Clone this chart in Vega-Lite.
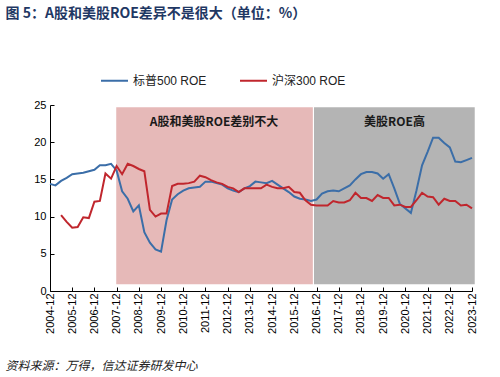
{
  "$schema": "https://vega.github.io/schema/vega-lite/v6.json",
  "width": 422,
  "height": 186,
  "autosize": {"type": "none"},
  "padding": {"left": 50, "top": 105, "right": 28, "bottom": 86},
  "background": "white",
  "config": {"view": {"stroke": null}, "font": "Liberation Sans, Noto Sans CJK SC"},
  "datasets": {
    "regions": [
      {"region": "A股和美股ROE差别不大", "start": "2007-11-25", "end": "2016-10-01", "mid": "2012-04-20"},
      {"region": "美股ROE高", "start": "2016-10-20", "end": "2024-01-15", "mid": "2020-06-05"}
    ],
    "roe": [
      {"date": "2004-12", "series": "标普500 ROE", "roe": 14.4},
      {"date": "2005-03", "series": "标普500 ROE", "roe": 14.2},
      {"date": "2005-06", "series": "标普500 ROE", "roe": 14.8},
      {"date": "2005-09", "series": "标普500 ROE", "roe": 15.2},
      {"date": "2005-12", "series": "标普500 ROE", "roe": 15.7},
      {"date": "2006-03", "series": "标普500 ROE", "roe": 15.8},
      {"date": "2006-06", "series": "标普500 ROE", "roe": 15.9},
      {"date": "2006-09", "series": "标普500 ROE", "roe": 16.1},
      {"date": "2006-12", "series": "标普500 ROE", "roe": 16.3},
      {"date": "2007-03", "series": "标普500 ROE", "roe": 16.9},
      {"date": "2007-06", "series": "标普500 ROE", "roe": 16.9},
      {"date": "2007-09", "series": "标普500 ROE", "roe": 17.1},
      {"date": "2007-12", "series": "标普500 ROE", "roe": 16.2},
      {"date": "2008-03", "series": "标普500 ROE", "roe": 13.4},
      {"date": "2008-06", "series": "标普500 ROE", "roe": 12.4},
      {"date": "2008-09", "series": "标普500 ROE", "roe": 10.7},
      {"date": "2008-12", "series": "标普500 ROE", "roe": 11.5},
      {"date": "2009-03", "series": "标普500 ROE", "roe": 7.9},
      {"date": "2009-06", "series": "标普500 ROE", "roe": 6.5},
      {"date": "2009-09", "series": "标普500 ROE", "roe": 5.6},
      {"date": "2009-12", "series": "标普500 ROE", "roe": 5.3},
      {"date": "2010-03", "series": "标普500 ROE", "roe": 9.5},
      {"date": "2010-06", "series": "标普500 ROE", "roe": 12.3},
      {"date": "2010-09", "series": "标普500 ROE", "roe": 13.0},
      {"date": "2010-12", "series": "标普500 ROE", "roe": 13.5},
      {"date": "2011-03", "series": "标普500 ROE", "roe": 13.8},
      {"date": "2011-06", "series": "标普500 ROE", "roe": 13.9},
      {"date": "2011-09", "series": "标普500 ROE", "roe": 14.0},
      {"date": "2011-12", "series": "标普500 ROE", "roe": 14.7},
      {"date": "2012-03", "series": "标普500 ROE", "roe": 14.7},
      {"date": "2012-06", "series": "标普500 ROE", "roe": 14.5},
      {"date": "2012-09", "series": "标普500 ROE", "roe": 14.3},
      {"date": "2012-12", "series": "标普500 ROE", "roe": 13.8},
      {"date": "2013-03", "series": "标普500 ROE", "roe": 13.5},
      {"date": "2013-06", "series": "标普500 ROE", "roe": 13.3},
      {"date": "2013-09", "series": "标普500 ROE", "roe": 13.8},
      {"date": "2013-12", "series": "标普500 ROE", "roe": 14.1},
      {"date": "2014-03", "series": "标普500 ROE", "roe": 14.7},
      {"date": "2014-06", "series": "标普500 ROE", "roe": 14.6},
      {"date": "2014-09", "series": "标普500 ROE", "roe": 14.5},
      {"date": "2014-12", "series": "标普500 ROE", "roe": 14.8},
      {"date": "2015-03", "series": "标普500 ROE", "roe": 14.3},
      {"date": "2015-06", "series": "标普500 ROE", "roe": 13.8},
      {"date": "2015-09", "series": "标普500 ROE", "roe": 13.3},
      {"date": "2015-12", "series": "标普500 ROE", "roe": 12.7},
      {"date": "2016-03", "series": "标普500 ROE", "roe": 12.4},
      {"date": "2016-06", "series": "标普500 ROE", "roe": 12.3},
      {"date": "2016-09", "series": "标普500 ROE", "roe": 12.1},
      {"date": "2016-12", "series": "标普500 ROE", "roe": 12.3},
      {"date": "2017-03", "series": "标普500 ROE", "roe": 13.1},
      {"date": "2017-06", "series": "标普500 ROE", "roe": 13.4},
      {"date": "2017-09", "series": "标普500 ROE", "roe": 13.5},
      {"date": "2017-12", "series": "标普500 ROE", "roe": 13.4},
      {"date": "2018-03", "series": "标普500 ROE", "roe": 13.8},
      {"date": "2018-06", "series": "标普500 ROE", "roe": 14.2},
      {"date": "2018-09", "series": "标普500 ROE", "roe": 15.0},
      {"date": "2018-12", "series": "标普500 ROE", "roe": 15.7},
      {"date": "2019-03", "series": "标普500 ROE", "roe": 16.0},
      {"date": "2019-06", "series": "标普500 ROE", "roe": 16.0},
      {"date": "2019-09", "series": "标普500 ROE", "roe": 15.8},
      {"date": "2019-12", "series": "标普500 ROE", "roe": 15.1},
      {"date": "2020-03", "series": "标普500 ROE", "roe": 15.7},
      {"date": "2020-06", "series": "标普500 ROE", "roe": 13.8},
      {"date": "2020-09", "series": "标普500 ROE", "roe": 11.7},
      {"date": "2020-12", "series": "标普500 ROE", "roe": 11.1},
      {"date": "2021-03", "series": "标普500 ROE", "roe": 10.5},
      {"date": "2021-06", "series": "标普500 ROE", "roe": 13.5},
      {"date": "2021-09", "series": "标普500 ROE", "roe": 16.9},
      {"date": "2021-12", "series": "标普500 ROE", "roe": 18.7},
      {"date": "2022-03", "series": "标普500 ROE", "roe": 20.6},
      {"date": "2022-06", "series": "标普500 ROE", "roe": 20.6},
      {"date": "2022-09", "series": "标普500 ROE", "roe": 19.9},
      {"date": "2022-12", "series": "标普500 ROE", "roe": 19.3},
      {"date": "2023-03", "series": "标普500 ROE", "roe": 17.4},
      {"date": "2023-06", "series": "标普500 ROE", "roe": 17.3},
      {"date": "2023-09", "series": "标普500 ROE", "roe": 17.6},
      {"date": "2023-12", "series": "标普500 ROE", "roe": 17.9},
      {"date": "2005-06", "series": "沪深300 ROE", "roe": 10.2},
      {"date": "2005-09", "series": "沪深300 ROE", "roe": 9.3},
      {"date": "2005-12", "series": "沪深300 ROE", "roe": 8.5},
      {"date": "2006-03", "series": "沪深300 ROE", "roe": 8.6},
      {"date": "2006-06", "series": "沪深300 ROE", "roe": 9.9},
      {"date": "2006-09", "series": "沪深300 ROE", "roe": 9.8},
      {"date": "2006-12", "series": "沪深300 ROE", "roe": 12.0},
      {"date": "2007-03", "series": "沪深300 ROE", "roe": 12.1},
      {"date": "2007-06", "series": "沪深300 ROE", "roe": 15.8},
      {"date": "2007-09", "series": "沪深300 ROE", "roe": 15.1},
      {"date": "2007-12", "series": "沪深300 ROE", "roe": 16.8},
      {"date": "2008-03", "series": "沪深300 ROE", "roe": 15.7},
      {"date": "2008-06", "series": "沪深300 ROE", "roe": 17.1},
      {"date": "2008-09", "series": "沪深300 ROE", "roe": 16.8},
      {"date": "2008-12", "series": "沪深300 ROE", "roe": 16.4},
      {"date": "2009-03", "series": "沪深300 ROE", "roe": 16.1},
      {"date": "2009-06", "series": "沪深300 ROE", "roe": 10.9},
      {"date": "2009-09", "series": "沪深300 ROE", "roe": 10.0},
      {"date": "2009-12", "series": "沪深300 ROE", "roe": 10.4},
      {"date": "2010-03", "series": "沪深300 ROE", "roe": 10.4},
      {"date": "2010-06", "series": "沪深300 ROE", "roe": 14.1},
      {"date": "2010-09", "series": "沪深300 ROE", "roe": 14.4},
      {"date": "2010-12", "series": "沪深300 ROE", "roe": 14.4},
      {"date": "2011-03", "series": "沪深300 ROE", "roe": 14.5},
      {"date": "2011-06", "series": "沪深300 ROE", "roe": 14.7},
      {"date": "2011-09", "series": "沪深300 ROE", "roe": 15.5},
      {"date": "2011-12", "series": "沪深300 ROE", "roe": 15.3},
      {"date": "2012-03", "series": "沪深300 ROE", "roe": 14.9},
      {"date": "2012-06", "series": "沪深300 ROE", "roe": 14.6},
      {"date": "2012-09", "series": "沪深300 ROE", "roe": 14.4},
      {"date": "2012-12", "series": "沪深300 ROE", "roe": 14.0},
      {"date": "2013-03", "series": "沪深300 ROE", "roe": 13.8},
      {"date": "2013-06", "series": "沪深300 ROE", "roe": 13.3},
      {"date": "2013-09", "series": "沪深300 ROE", "roe": 13.8},
      {"date": "2013-12", "series": "沪深300 ROE", "roe": 13.8},
      {"date": "2014-03", "series": "沪深300 ROE", "roe": 13.8},
      {"date": "2014-06", "series": "沪深300 ROE", "roe": 13.8},
      {"date": "2014-09", "series": "沪深300 ROE", "roe": 14.3},
      {"date": "2014-12", "series": "沪深300 ROE", "roe": 14.0},
      {"date": "2015-03", "series": "沪深300 ROE", "roe": 13.8},
      {"date": "2015-06", "series": "沪深300 ROE", "roe": 13.8},
      {"date": "2015-09", "series": "沪深300 ROE", "roe": 14.0},
      {"date": "2015-12", "series": "沪深300 ROE", "roe": 13.3},
      {"date": "2016-03", "series": "沪深300 ROE", "roe": 13.2},
      {"date": "2016-06", "series": "沪深300 ROE", "roe": 12.2},
      {"date": "2016-09", "series": "沪深300 ROE", "roe": 11.6},
      {"date": "2016-12", "series": "沪深300 ROE", "roe": 11.5},
      {"date": "2017-03", "series": "沪深300 ROE", "roe": 11.5},
      {"date": "2017-06", "series": "沪深300 ROE", "roe": 11.5},
      {"date": "2017-09", "series": "沪深300 ROE", "roe": 12.1},
      {"date": "2017-12", "series": "沪深300 ROE", "roe": 11.9},
      {"date": "2018-03", "series": "沪深300 ROE", "roe": 11.9},
      {"date": "2018-06", "series": "沪深300 ROE", "roe": 12.2},
      {"date": "2018-09", "series": "沪深300 ROE", "roe": 13.2},
      {"date": "2018-12", "series": "沪深300 ROE", "roe": 12.5},
      {"date": "2019-03", "series": "沪深300 ROE", "roe": 12.5},
      {"date": "2019-06", "series": "沪深300 ROE", "roe": 12.1},
      {"date": "2019-09", "series": "沪深300 ROE", "roe": 12.9},
      {"date": "2019-12", "series": "沪深300 ROE", "roe": 12.5},
      {"date": "2020-03", "series": "沪深300 ROE", "roe": 12.5},
      {"date": "2020-06", "series": "沪深300 ROE", "roe": 11.5},
      {"date": "2020-09", "series": "沪深300 ROE", "roe": 11.6},
      {"date": "2020-12", "series": "沪深300 ROE", "roe": 11.3},
      {"date": "2021-03", "series": "沪深300 ROE", "roe": 11.3},
      {"date": "2021-06", "series": "沪深300 ROE", "roe": 12.2},
      {"date": "2021-09", "series": "沪深300 ROE", "roe": 13.2},
      {"date": "2021-12", "series": "沪深300 ROE", "roe": 12.7},
      {"date": "2022-03", "series": "沪深300 ROE", "roe": 12.6},
      {"date": "2022-06", "series": "沪深300 ROE", "roe": 11.6},
      {"date": "2022-09", "series": "沪深300 ROE", "roe": 12.4},
      {"date": "2022-12", "series": "沪深300 ROE", "roe": 12.1},
      {"date": "2023-03", "series": "沪深300 ROE", "roe": 12.1},
      {"date": "2023-06", "series": "沪深300 ROE", "roe": 11.5},
      {"date": "2023-09", "series": "沪深300 ROE", "roe": 11.6},
      {"date": "2023-12", "series": "沪深300 ROE", "roe": 11.1}
    ]
  },
  "layer": [
    {
      "data": {"name": "regions"},
      "mark": {"type": "rect"},
      "encoding": {
        "x": {
          "field": "start", "type": "temporal",
          "scale": {"type": "utc", "domain": [{"year": 2004, "month": 12, "date": 1, "utc": true}, {"year": 2023, "month": 12, "date": 1, "utc": true}]},
          "axis": {
            "orient": "top", "offset": 80, "domain": false,
            "ticks": false, "labels": false, "grid": false,
            "title": "图 5：A股和美股ROE差异不是很大（单位：%）",
            "titleAnchor": "start", "titleAlign": "left", "titleX": -45, "titleY": -8, "titleBaseline": "alphabetic",
            "titleFont": "Noto Sans CJK SC", "titleFontSize": 14, "titleFontWeight": "bold", "titleColor": "#1f3864", "titleAngle": 0
          }
        },
        "x2": {"field": "end"},
        "y": {"datum": 0.9, "type": "quantitative", "scale": {"domain": [0, 25], "nice": false}, "axis": null},
        "y2": {"datum": 24.7},
        "fill": {"field": "region", "type": "nominal", "scale": {"domain": ["A股和美股ROE差别不大", "美股ROE高"], "range": ["#e6b9b8", "#b4b4b4"]}, "legend": null}
      }
    },
    {
      "data": {"name": "regions"},
      "mark": {"type": "text", "font": "Noto Sans CJK SC", "fontWeight": "bold", "fontSize": 12, "color": "#1a1a1a", "baseline": "middle", "align": "center"},
      "encoding": {
        "x": {
          "field": "mid", "type": "temporal",
          "scale": {"type": "utc", "domain": [{"year": 2004, "month": 12, "date": 1, "utc": true}, {"year": 2023, "month": 12, "date": 1, "utc": true}]},
          "axis": {
            "orient": "bottom", "offset": 66, "domain": false,
            "ticks": false, "labels": false, "grid": false,
            "title": "资料来源：万得，信达证券研发中心",
            "titleAnchor": "start", "titleAlign": "left", "titleX": -45, "titleY": 12, "titleBaseline": "alphabetic",
            "titleFont": "Noto Sans CJK SC", "titleFontSize": 12, "titleFontWeight": "normal", "titleFontStyle": "italic", "titleColor": "#222222", "titleAngle": 0
          }
        },
        "y": {"datum": 22.7, "type": "quantitative", "scale": {"domain": [0, 25], "nice": false}, "axis": null},
        "text": {"field": "region"}
      }
    },
    {
      "data": {"name": "roe"},
      "mark": {"type": "line", "strokeWidth": 2},
      "encoding": {
        "x": {
          "field": "date", "type": "temporal",
          "scale": {"type": "utc", "domain": [{"year": 2004, "month": 12, "date": 1, "utc": true}, {"year": 2023, "month": 12, "date": 1, "utc": true}]},
          "axis": {
            "orient": "bottom", "title": null, "grid": false,
            "values": [
              {"year": 2004, "month": 12, "date": 1, "utc": true},
              {"year": 2005, "month": 12, "date": 1, "utc": true},
              {"year": 2006, "month": 12, "date": 1, "utc": true},
              {"year": 2007, "month": 12, "date": 1, "utc": true},
              {"year": 2008, "month": 12, "date": 1, "utc": true},
              {"year": 2009, "month": 12, "date": 1, "utc": true},
              {"year": 2010, "month": 12, "date": 1, "utc": true},
              {"year": 2011, "month": 12, "date": 1, "utc": true},
              {"year": 2012, "month": 12, "date": 1, "utc": true},
              {"year": 2013, "month": 12, "date": 1, "utc": true},
              {"year": 2014, "month": 12, "date": 1, "utc": true},
              {"year": 2015, "month": 12, "date": 1, "utc": true},
              {"year": 2016, "month": 12, "date": 1, "utc": true},
              {"year": 2017, "month": 12, "date": 1, "utc": true},
              {"year": 2018, "month": 12, "date": 1, "utc": true},
              {"year": 2019, "month": 12, "date": 1, "utc": true},
              {"year": 2020, "month": 12, "date": 1, "utc": true},
              {"year": 2021, "month": 12, "date": 1, "utc": true},
              {"year": 2022, "month": 12, "date": 1, "utc": true},
              {"year": 2023, "month": 12, "date": 1, "utc": true}
            ],
            "labelExpr": "utcFormat(datum.value, '%Y-%m')",
            "labelAngle": 270, "labelFontSize": 11, "labelColor": "#000000", "labelPadding": 6,
            "labelFont": "Liberation Sans", "labelOverlap": false, "labelFlush": false,
            "domainColor": "#000000", "tickColor": "#000000", "tickSize": -4
          }
        },
        "y": {
          "field": "roe", "type": "quantitative",
          "scale": {"domain": [0, 25], "nice": false},
          "axis": {
            "title": null, "grid": false, "values": [0, 5, 10, 15, 20, 25],
            "labelFontSize": 11, "labelColor": "#000000", "labelPadding": 8, "labelFont": "Liberation Sans",
            "domainColor": "#000000", "tickColor": "#000000", "tickSize": -4
          }
        },
        "color": {
          "field": "series", "type": "nominal",
          "scale": {"domain": ["标普500 ROE", "沪深300 ROE"], "range": ["#3b6ea8", "#c0262d"]},
          "legend": {
            "orient": "none", "legendX": 50, "legendY": -39, "direction": "horizontal", "title": null,
            "symbolType": "stroke", "symbolSize": 729, "symbolStrokeWidth": 2,
            "labelFontSize": 12, "labelFont": "Liberation Sans, Noto Sans CJK SC", "labelColor": "#222222",
            "columnPadding": 29, "labelOffset": 4, "padding": 0
          }
        }
      }
    }
  ],
  "resolve": {"axis": {"x": "independent", "y": "independent"}}
}
